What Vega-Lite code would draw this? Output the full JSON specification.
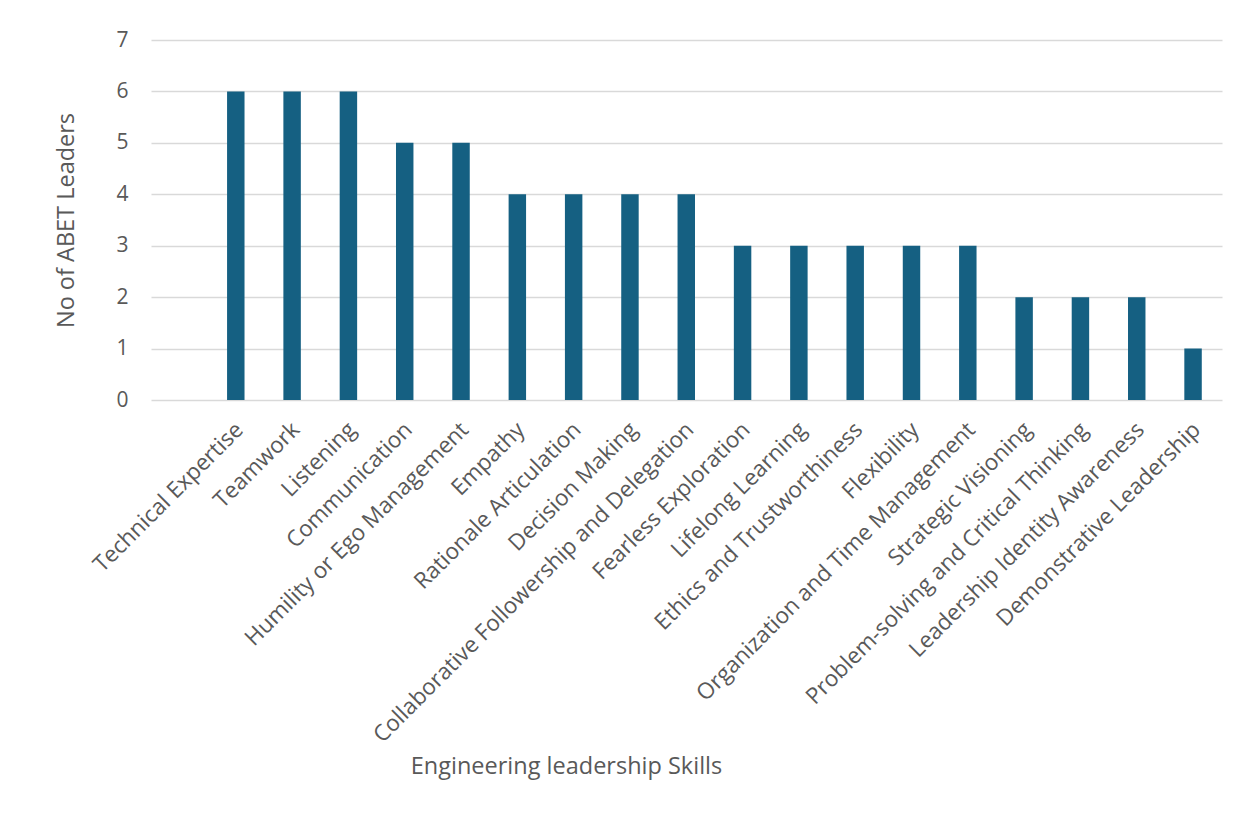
{
  "$schema": "https://vega.github.io/schema/vega-lite/v6.json",
  "autosize": "none",
  "width": 1071,
  "height": 360,
  "padding": {"left": 151, "top": 40, "right": 14, "bottom": 414},
  "background": "white",
  "data": {"values": [
    {"skill": "Technical Expertise", "count": 6},
    {"skill": "Teamwork", "count": 6},
    {"skill": "Listening", "count": 6},
    {"skill": "Communication", "count": 5},
    {"skill": "Humility or Ego Management", "count": 5},
    {"skill": "Empathy", "count": 4},
    {"skill": "Rationale Articulation", "count": 4},
    {"skill": "Decision Making", "count": 4},
    {"skill": "Collaborative Followership and Delegation", "count": 4},
    {"skill": "Fearless Exploration", "count": 3},
    {"skill": "Lifelong Learning", "count": 3},
    {"skill": "Ethics and Trustworthiness", "count": 3},
    {"skill": "Flexibility", "count": 3},
    {"skill": "Organization and Time Management", "count": 3},
    {"skill": "Strategic Visioning", "count": 2},
    {"skill": "Problem-solving and Critical Thinking", "count": 2},
    {"skill": "Leadership Identity Awareness", "count": 2},
    {"skill": "Demonstrative Leadership", "count": 1}
  ]},
  "mark": {"type": "bar", "color": "#156082"},
  "encoding": {
    "x": {
      "field": "skill", "type": "nominal", "sort": null,
      "scale": {"paddingInner": 0.69, "paddingOuter": 0.855, "align": 0.79},
      "axis": {
        "title": "Engineering leadership Skills",
        "titleFont": "Open Sans", "titleFontSize": 23.5, "titleFontWeight": "normal", "titleColor": "#595959",
        "titleX": 415, "titleY": 373, "titleBaseline": "alphabetic", "titleAnchor": "middle",
        "labelAngle": -45, "labelFont": "Open Sans", "labelFontSize": 22.5, "labelColor": "#595959",
        "labelPadding": 18, "labelOffset": -4, "labelLimit": 0, "labelOverlap": false,
        "ticks": false, "domain": false, "grid": false
      }
    },
    "y": {
      "field": "count", "type": "quantitative",
      "scale": {"domain": [0, 7], "nice": false},
      "axis": {
        "title": "No of ABET Leaders",
        "titleFont": "Open Sans", "titleFontSize": 23.5, "titleFontWeight": "normal", "titleColor": "#595959",
        "titleX": -78, "titleY": 180, "titleAngle": -90, "titleBaseline": "alphabetic", "titleAnchor": "middle",
        "values": [0, 1, 2, 3, 4, 5, 6, 7],
        "labelFont": "Open Sans", "labelFontSize": 21, "labelColor": "#595959", "labelPadding": 23,
        "ticks": false, "domain": false,
        "grid": true, "gridColor": "#d9d9d9", "gridWidth": 1.5
      }
    }
  },
  "config": {"view": {"stroke": null}}
}
